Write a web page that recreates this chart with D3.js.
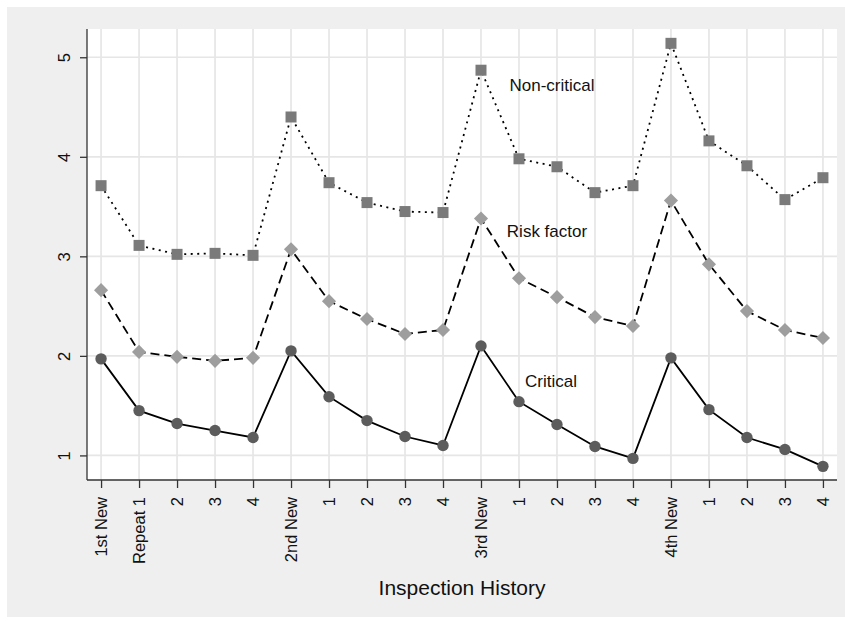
<!DOCTYPE html>
<html>
<head>
<meta charset="utf-8">
<script src="https://cdn.jsdelivr.net/npm/d3@7"></script>
<style>
  html, body { margin: 0; padding: 0; background: #ffffff; }
  svg { display: block; font-family: "Liberation Sans", Arial, Helvetica, sans-serif; }
</style>
</head>
<body>
<svg id="chart" width="845" height="621"></svg>
<script>
// Inspection sequence along the x axis
const categories = ["1st New", "Repeat 1", "2", "3", "4",
                    "2nd New", "1", "2", "3", "4",
                    "3rd New", "1", "2", "3", "4",
                    "4th New", "1", "2", "3", "4"];

// Average number of violations per inspection
const nonCritical = [3.71, 3.11, 3.02, 3.03, 3.01,
                     4.40, 3.74, 3.54, 3.45, 3.44,
                     4.87, 3.98, 3.90, 3.64, 3.71,
                     5.14, 4.16, 3.91, 3.57, 3.79];
const riskFactor  = [2.66, 2.04, 1.99, 1.95, 1.98,
                     3.07, 2.55, 2.37, 2.22, 2.26,
                     3.38, 2.78, 2.59, 2.39, 2.30,
                     3.56, 2.92, 2.45, 2.26, 2.18];
const critical    = [1.97, 1.45, 1.32, 1.25, 1.18,
                     2.05, 1.59, 1.35, 1.19, 1.10,
                     2.10, 1.54, 1.31, 1.09, 0.97,
                     1.98, 1.46, 1.18, 1.06, 0.89];

const yTicks = [1, 2, 3, 4, 5];
const xTitle = "Inspection History";

const svg = d3.select("#chart");
const W = 845, H = 621;
const plot = { left: 87, right: 837, top: 29, bottom: 480 };

// outer panel
svg.append("rect").attr("x", 7).attr("y", 7).attr("width", W - 7).attr("height", 610)
   .attr("fill", "#efefef");
svg.append("rect").attr("x", plot.left).attr("y", plot.top)
   .attr("width", plot.right - plot.left).attr("height", plot.bottom - plot.top)
   .attr("fill", "#ffffff");

const idx = d3.range(categories.length);
const x = d3.scalePoint().domain(idx).range([plot.left, plot.right]).padding(0.37);
const y = d3.scaleLinear().domain([0.753, 5.284]).range([plot.bottom, plot.top]);

// grid
const grid = svg.append("g").attr("stroke", "#e6e6e6").attr("stroke-width", 1.7);
grid.selectAll("line.v").data(idx).join("line")
  .attr("x1", d => x(d)).attr("x2", d => x(d))
  .attr("y1", plot.top).attr("y2", plot.bottom);
grid.selectAll("line.h").data(yTicks).join("line")
  .attr("x1", plot.left).attr("x2", plot.right)
  .attr("y1", d => y(d)).attr("y2", d => y(d));

// axes
const yAxis = d3.axisLeft(y).tickValues(yTicks).tickSize(7).tickFormat(d3.format("d"));
const gy = svg.append("g").attr("transform", `translate(${plot.left},0)`).call(yAxis);
gy.select(".domain").attr("d", `M0,${plot.top}V${plot.bottom}`);
gy.selectAll("text").remove();
gy.selectAll(".tick").append("text")
  .attr("transform", "translate(-23,0) rotate(-90)")
  .attr("text-anchor", "middle").attr("dy", "0.35em")
  .attr("fill", "#111").attr("font-size", 16.5)
  .text(d => d);

const xAxis = d3.axisBottom(x).tickSize(8).tickFormat(d => categories[d]);
const gx = svg.append("g").attr("transform", `translate(0,${plot.bottom})`).call(xAxis);
gx.select(".domain").attr("d", `M${plot.left},0H${plot.right}`);
gx.selectAll("text").remove();
gx.selectAll(".tick").append("text")
  .attr("transform", "translate(0,17) rotate(-90)")
  .attr("text-anchor", "end").attr("dy", "0.35em")
  .attr("fill", "#111").attr("font-size", 16.5)
  .text(d => categories[d]);

svg.selectAll(".domain").attr("stroke", "#333").attr("stroke-width", 1.3);
svg.selectAll(".tick line").attr("stroke", "#333").attr("stroke-width", 1.3);

// axis title
svg.append("text").attr("x", (plot.left + plot.right) / 2).attr("y", 595)
   .attr("text-anchor", "middle").attr("font-size", 21).attr("fill", "#111")
   .text(xTitle);

// series
const series = [
  { name: "Non-critical", values: nonCritical, dash: "2,4.5", fill: "#7a7a7a", shape: "square" },
  { name: "Risk factor",  values: riskFactor,  dash: "9,5",   fill: "#9e9e9e", shape: "diamond" },
  { name: "Critical",     values: critical,    dash: null,    fill: "#5c5c5c", shape: "circle" }
];

const line = d3.line().x((d, i) => x(i)).y(d => y(d));
const symbols = {
  square: d3.symbol().type(d3.symbolSquare).size(121)(),
  diamond: d3.symbol().type(d3.symbolSquare).size(100)(),
  circle: d3.symbol().type(d3.symbolCircle).size(Math.PI * 5.7 * 5.7)()
};

series.forEach(s => {
  svg.append("path").datum(s.values)
    .attr("d", line).attr("fill", "none")
    .attr("stroke", "#000").attr("stroke-width", 1.8)
    .attr("stroke-dasharray", s.dash);
});
series.forEach(s => {
  svg.append("g").selectAll("path").data(s.values).join("path")
    .attr("d", symbols[s.shape])
    .attr("transform", (d, i) => `translate(${x(i)},${y(d)})` + (s.shape === "diamond" ? " rotate(45)" : ""))
    .attr("fill", s.fill);
});

// in-plot series labels, placed in data coordinates
const labels = [
  { text: "Non-critical", at: 10.75, value: 4.665 },
  { text: "Risk factor",  at: 10.68, value: 3.193 },
  { text: "Critical",     at: 11.16, value: 1.683 }
];
const xi = d3.scaleLinear().domain([0, categories.length - 1]).range([x(0), x(categories.length - 1)]);
svg.append("g").selectAll("text").data(labels).join("text")
  .attr("x", d => xi(d.at)).attr("y", d => y(d.value))
  .attr("font-size", 17).attr("fill", "#111")
  .text(d => d.text);
</script>
</body>
</html>
